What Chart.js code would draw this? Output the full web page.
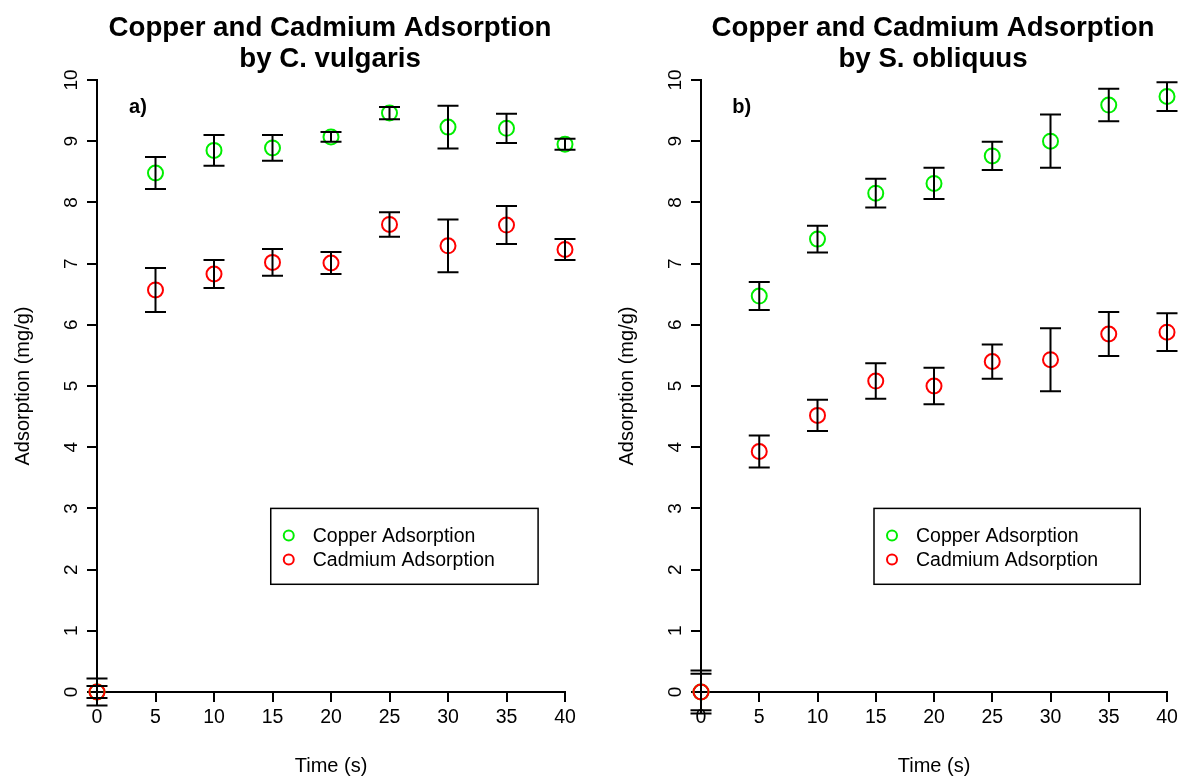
<!DOCTYPE html>
<html>
<head>
<meta charset="utf-8">
<title>Copper and Cadmium Adsorption</title>
<script src="https://cdn.jsdelivr.net/npm/chart.js"></script>
<style>
  html, body { margin: 0; padding: 0; background: #fff; }
  .panel { position: absolute; top: 0; width: 591px; height: 778px; }
  #panelA { left: 0; }
  #panelB { left: 591px; }
</style>
</head>
<body>
<div class="panel" id="panelA"><canvas id="chartA" width="591" height="778"></canvas></div>
<div class="panel" id="panelB"><canvas id="chartB" width="591" height="778"></canvas></div>

<script>
// sampling times (s)
const times = [0, 5, 10, 15, 20, 25, 30, 35, 40];

// C. vulgaris: mean adsorption (mg/g) and error
const cvCopper = [0, 8.48, 8.85, 8.89, 9.07, 9.46, 9.23, 9.21, 8.95];
const cvCopperErr = [0.22, 0.26, 0.25, 0.21, 0.08, 0.10, 0.35, 0.24, 0.09];
const cvCadmium = [0, 6.57, 6.83, 7.02, 7.01, 7.64, 7.29, 7.63, 7.23];
const cvCadmiumErr = [0.10, 0.36, 0.23, 0.22, 0.18, 0.20, 0.43, 0.31, 0.17];

// S. obliquus: mean adsorption (mg/g) and error
const soCopper = [0, 6.47, 7.40, 8.15, 8.31, 8.76, 9.00, 9.59, 9.73];
const soCopperErr = [0.35, 0.23, 0.22, 0.235, 0.255, 0.23, 0.435, 0.265, 0.235];
const soCadmium = [0, 3.93, 4.52, 5.08, 5.00, 5.40, 5.43, 5.85, 5.88];
const soCadmiumErr = [0.30, 0.26, 0.255, 0.29, 0.30, 0.28, 0.515, 0.36, 0.31];

const xTicks = [0, 5, 10, 15, 20, 25, 30, 35, 40];
const yTicks = [0, 1, 2, 3, 4, 5, 6, 7, 8, 9, 10];

const FONT = '"Liberation Sans", Arial, Helvetica, sans-serif';

function pts(ys) {
  return times.map((t, i) => ({ x: t, y: ys[i] }));
}

// error bars, titles, tick labels and legend drawn around the plot region
const panelDecor = {
  id: 'panelDecor',
  afterDatasetsDraw(chart) {
    const ctx = chart.ctx;
    const xs = chart.scales.x, ys = chart.scales.y;
    ctx.save();
    ctx.strokeStyle = '#000';
    ctx.lineWidth = 2;
    chart.data.datasets.forEach(ds => {
      ds.data.forEach((p, i) => {
        const e = ds.err[i];
        const px = xs.getPixelForValue(p.x);
        const top = ys.getPixelForValue(p.y + e);
        const bot = ys.getPixelForValue(p.y - e);
        ctx.beginPath();
        ctx.moveTo(px, top); ctx.lineTo(px, bot);
        ctx.moveTo(px - 10.5, top); ctx.lineTo(px + 10.5, top);
        ctx.moveTo(px - 10.5, bot); ctx.lineTo(px + 10.5, bot);
        ctx.stroke();
      });
    });
    ctx.restore();
  },
  afterDraw(chart, args, opts) {
    const ctx = chart.ctx;
    const area = chart.chartArea;
    const xs = chart.scales.x, ys = chart.scales.y;
    const cx = (area.left + area.right) / 2;
    const cy = (area.top + area.bottom) / 2;
    ctx.save();
    ctx.fillStyle = '#000';

    // main title, two lines
    ctx.font = 'bold 27.7px ' + FONT;
    ctx.textAlign = 'center';
    ctx.textBaseline = 'alphabetic';
    ctx.fillText(opts.title[0], cx - 1, 36);
    ctx.fillText(opts.title[1], cx - 1, 67);

    // panel tag
    ctx.font = 'bold 20px ' + FONT;
    ctx.textBaseline = 'middle';
    ctx.fillText(opts.tag, xs.getPixelForValue(3.5), ys.getPixelForValue(9.55));

    // y tick labels, parallel to the axis
    ctx.font = '19px ' + FONT;
    ys.ticks.forEach(t => {
      ctx.save();
      ctx.translate(area.left - 25, ys.getPixelForValue(t.value));
      ctx.rotate(-Math.PI / 2);
      ctx.textAlign = 'center';
      ctx.textBaseline = 'middle';
      ctx.fillText(String(t.value), 0, 0);
      ctx.restore();
    });

    // axis titles
    ctx.font = '20px ' + FONT;
    ctx.textAlign = 'center';
    ctx.textBaseline = 'middle';
    ctx.fillText('Time (s)', cx, 766);
    ctx.save();
    ctx.translate(area.left - 74, cy);
    ctx.rotate(-Math.PI / 2);
    ctx.fillText('Adsorption (mg/g)', 0, 0);
    ctx.restore();

    // legend box
    const bx0 = xs.getPixelForValue(14.85), bx1 = xs.getPixelForValue(37.7);
    const by0 = ys.getPixelForValue(3.0), by1 = ys.getPixelForValue(1.76);
    ctx.strokeStyle = '#000';
    ctx.lineWidth = 1.5;
    ctx.strokeRect(bx0, by0, bx1 - bx0, by1 - by0);
    ctx.font = '19.5px ' + FONT;
    ctx.textAlign = 'left';
    const legendOrder = [...chart.data.datasets].sort((a, b) => a.legendIndex - b.legendIndex);
    legendOrder.forEach((ds, i) => {
      const ry = by0 + 27 + i * 24;
      ctx.beginPath();
      ctx.arc(bx0 + 18, ry, 5, 0, Math.PI * 2);
      ctx.strokeStyle = ds.borderColor;
      ctx.lineWidth = 2;
      ctx.stroke();
      ctx.fillStyle = '#000';
      ctx.fillText(ds.label, bx0 + 42, ry + 1);
    });
    ctx.restore();
  }
};

function makePanel(id, copper, copperErr, cadmium, cadmiumErr, title, tag, yWidth, rightPad) {
  return new Chart(document.getElementById(id), {
    type: 'scatter',
    data: {
      datasets: [
        {
          label: 'Copper Adsorption', legendIndex: 0, order: 1,
          data: pts(copper), err: copperErr,
          borderColor: '#00ee00', backgroundColor: 'rgba(0,0,0,0)',
          pointRadius: 7.5, pointHoverRadius: 7.5, borderWidth: 2, clip: false
        },
        {
          label: 'Cadmium Adsorption', legendIndex: 1, order: 0,
          data: pts(cadmium), err: cadmiumErr,
          borderColor: '#ff0000', backgroundColor: 'rgba(0,0,0,0)',
          pointRadius: 7.5, pointHoverRadius: 7.5, borderWidth: 2, clip: false
        }
      ]
    },
    options: {
      responsive: false,
      animation: false,
      events: [],
      layout: { padding: { top: 80, right: rightPad, left: 0, bottom: 0 } },
      scales: {
        x: {
          type: 'linear', min: 0, max: 40,
          afterBuildTicks: s => { s.ticks = xTicks.map(v => ({ value: v })); },
          afterFit: s => { s.height = 86; },
          border: { display: true, color: '#000', width: 2 },
          grid: { drawOnChartArea: false, drawTicks: true, tickLength: 10, color: '#000', lineWidth: 2 },
          ticks: { color: '#000', font: { family: FONT, size: 19.5 }, padding: 4, maxRotation: 0 }
        },
        y: {
          type: 'linear', min: 0, max: 10,
          afterBuildTicks: s => { s.ticks = yTicks.map(v => ({ value: v })); },
          afterFit: s => { s.width = yWidth; },
          border: { display: true, color: '#000', width: 2 },
          grid: { drawOnChartArea: false, drawTicks: true, tickLength: 10, color: '#000', lineWidth: 2 },
          ticks: { display: false }
        }
      },
      plugins: {
        legend: { display: false },
        tooltip: { enabled: false },
        panelDecor: { title: title, tag: tag }
      }
    },
    plugins: [panelDecor]
  });
}

makePanel('chartA', cvCopper, cvCopperErr, cvCadmium, cvCadmiumErr,
  ['Copper and Cadmium Adsorption', 'by C. vulgaris'], 'a)', 97, 26);
makePanel('chartB', soCopper, soCopperErr, soCadmium, soCadmiumErr,
  ['Copper and Cadmium Adsorption', 'by S. obliquus'], 'b)', 110, 15);
</script>
</body>
</html>
